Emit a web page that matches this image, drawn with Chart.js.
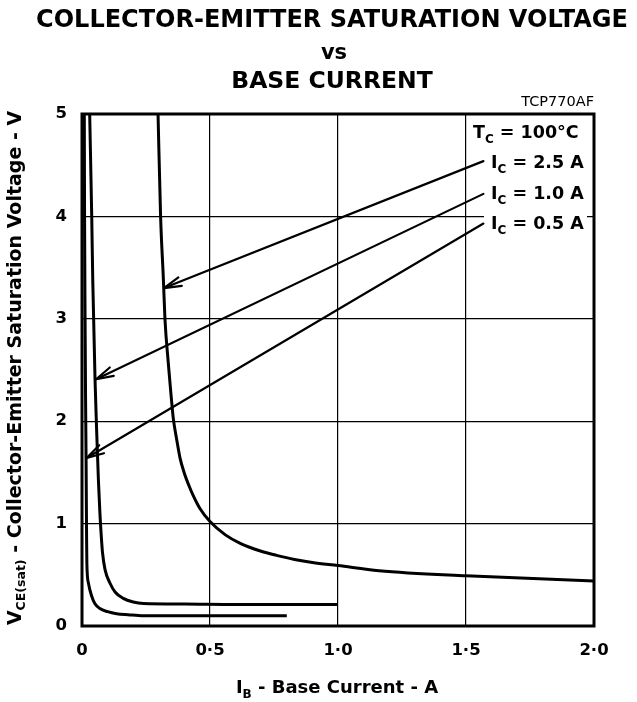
<!DOCTYPE html>
<html>
<head>
<meta charset="utf-8">
<script src="https://cdn.jsdelivr.net/npm/chart.js@4.4.1/dist/chart.umd.min.js"></script>
<style>
  html, body { margin: 0; padding: 0; background: #fff; }
  canvas { display: block; }
</style>
</head>
<body>
<canvas id="chart" width="637" height="702"></canvas>
<script>
// values (Tc = 100 °C)
const ibHigh = [0.297, 0.307, 0.318, 0.324, 0.337, 0.347, 0.357, 0.370, 0.383, 0.40, 0.418, 0.435, 0.46, 0.50, 0.56, 0.62, 0.70, 0.76, 0.83, 0.90, 1.00, 1.16, 1.50, 2.00];
const vceHigh = [5.0, 4.0, 3.38, 3.0, 2.57, 2.28, 2.02, 1.82, 1.64, 1.49, 1.37, 1.27, 1.15, 1.02, 0.89, 0.805, 0.73, 0.69, 0.65, 0.62, 0.59, 0.54, 0.49, 0.44];

const ibMid = [0.030, 0.038, 0.042, 0.051, 0.058, 0.064, 0.070, 0.076, 0.080, 0.090, 0.109, 0.130, 0.161, 0.200, 0.240, 0.400, 0.600, 1.000];
const vceMid = [5.0, 4.0, 3.38, 2.4, 1.85, 1.43, 1.1, 0.85, 0.72, 0.55, 0.42, 0.33, 0.27, 0.235, 0.22, 0.215, 0.21, 0.21];

const ibLow = [0.009, 0.010, 0.012, 0.014, 0.016, 0.017, 0.018, 0.019, 0.025, 0.038, 0.050, 0.070, 0.100, 0.135, 0.180, 0.240, 0.500, 0.800];
const vceLow = [5.0, 4.0, 3.0, 2.2, 1.6, 1.2, 0.85, 0.61, 0.42, 0.29, 0.22, 0.17, 0.14, 0.12, 0.11, 0.10, 0.10, 0.10];

const seriesNames = ['2.5 A', '1.0 A', '0.5 A'];
const xTickLabels = ['0', '0·5', '1·0', '1·5', '2·0'];
const yTickLabels = ['0', '1', '2', '3', '4', '5'];

const FONT = '"DejaVu Sans", sans-serif';

function pts(xs, ys) {
  return xs.map((x, i) => ({ x: x, y: ys[i] }));
}

// draws a run of text pieces: [text, size, dy]
function richText(ctx, parts, x, y, align) {
  let w = 0;
  parts.forEach(p => {
    ctx.font = 'bold ' + p[1] + 'px ' + FONT;
    w += ctx.measureText(p[0]).width;
  });
  let cx = align === 'center' ? x - w / 2 : (align === 'right' ? x - w : x);
  ctx.textAlign = 'left';
  ctx.textBaseline = 'alphabetic';
  parts.forEach(p => {
    ctx.font = 'bold ' + p[1] + 'px ' + FONT;
    ctx.fillText(p[0], cx, y + p[2]);
    cx += ctx.measureText(p[0]).width;
  });
}

const sheetDecor = {
  id: 'sheetDecor',
  beforeDatasetsDraw(chart) {
    const { ctx, chartArea: a } = chart;
    ctx.save();
    ctx.strokeStyle = '#000';
    ctx.lineWidth = 3;
    ctx.strokeRect(a.left, a.top, a.right - a.left, a.bottom - a.top);
    ctx.restore();
  },
  afterDatasetsDraw(chart) {
    const { ctx, scales } = chart;
    const xs = scales.x, ys = scales.y;
    ctx.save();

    // label block, white behind it
    ctx.fillStyle = '#fff';
    ctx.fillRect(484, 118, 103, 118);
    ctx.fillStyle = '#000';
    richText(ctx, [['T', 17.5, 0], ['C', 12, 5], [' = 100°C', 17.5, 0]], 473, 138);
    const rows = [168, 199, 229];
    seriesNames.forEach((name, i) => {
      richText(ctx, [['I', 17.5, 0], ['C', 12, 5], [' = ' + name, 17.5, 0]], 491, rows[i]);
    });

    // leader arrows (data units: from label to curve)
    const arrows = [
      [1.568, 4.54, 0.320, 3.30],
      [1.568, 4.22, 0.055, 2.41],
      [1.568, 3.93, 0.018, 1.64]
    ];
    ctx.strokeStyle = '#000';
    ctx.lineWidth = 2.2;
    ctx.lineCap = 'round';
    ctx.lineJoin = 'round';
    arrows.forEach(ar => {
      const x0 = xs.getPixelForValue(ar[0]), y0 = ys.getPixelForValue(ar[1]);
      const x1 = xs.getPixelForValue(ar[2]), y1 = ys.getPixelForValue(ar[3]);
      ctx.beginPath();
      ctx.moveTo(x0, y0);
      ctx.lineTo(x1, y1);
      ctx.stroke();
      const ang = Math.atan2(y0 - y1, x0 - x1);
      const len = 18, spread = 0.26;
      ctx.beginPath();
      ctx.moveTo(x1 + len * Math.cos(ang - spread), y1 + len * Math.sin(ang - spread));
      ctx.lineTo(x1, y1);
      ctx.lineTo(x1 + len * Math.cos(ang + spread), y1 + len * Math.sin(ang + spread));
      ctx.stroke();
    });
    ctx.restore();
  },
  afterDraw(chart) {
    const ctx = chart.ctx;
    ctx.save();
    ctx.fillStyle = '#000';
    ctx.textAlign = 'center';
    ctx.textBaseline = 'alphabetic';
    ctx.font = 'bold 24px ' + FONT;
    ctx.fillText('COLLECTOR-EMITTER SATURATION VOLTAGE', 332, 27);
    ctx.font = 'bold 21px ' + FONT;
    ctx.fillText('vs', 334, 59);
    ctx.font = 'bold 23.5px ' + FONT;
    ctx.fillText('BASE CURRENT', 332, 88);

    ctx.textAlign = 'right';
    ctx.font = '14.5px ' + FONT;
    ctx.fillText('TCP770AF', 594, 106);

    // x axis title
    richText(ctx, [['I', 18, 0], ['B', 12, 5], [' - Base Current - A', 18, 0]], 337, 693, 'center');

    // y axis title
    ctx.translate(21, 368);
    ctx.rotate(-Math.PI / 2);
    richText(ctx, [['V', 19, 0], ['CE(sat)', 12.5, 4], [' - Collector-Emitter Saturation Voltage - V', 19, 0]], 0, 0, 'center');
    ctx.restore();
  }
};

const lineStyle = {
  borderColor: '#000',
  borderWidth: 3,
  pointRadius: 0,
  fill: false,
  cubicInterpolationMode: 'monotone'
};

new Chart(document.getElementById('chart'), {
  type: 'line',
  data: {
    datasets: [
      Object.assign({ label: 'IC = ' + seriesNames[0], data: pts(ibHigh, vceHigh) }, lineStyle),
      Object.assign({ label: 'IC = ' + seriesNames[1], data: pts(ibMid, vceMid) }, lineStyle),
      Object.assign({ label: 'IC = ' + seriesNames[2], data: pts(ibLow, vceLow) }, lineStyle)
    ]
  },
  options: {
    responsive: false,
    animation: false,
    layout: { padding: { top: 114, right: 43, left: 0, bottom: 0 } },
    plugins: {
      legend: { display: false },
      tooltip: { enabled: false }
    },
    scales: {
      x: {
        type: 'linear',
        min: 0,
        max: 2,
        ticks: {
          stepSize: 0.5,
          color: '#000',
          padding: 15,
          maxRotation: 0,
          font: { family: FONT, weight: 'bold', size: 16.5 },
          callback: (v, i) => xTickLabels[i]
        },
        grid: { color: '#000', lineWidth: 1.2, drawTicks: false },
        border: { display: false },
        afterFit: s => { s.height = 76; }
      },
      y: {
        type: 'linear',
        min: 0,
        max: 5,
        ticks: {
          stepSize: 1,
          color: '#000',
          padding: 15,
          font: { family: FONT, weight: 'bold', size: 16.5 },
          callback: (v, i) => yTickLabels[i]
        },
        grid: { color: '#000', lineWidth: 1.2, drawTicks: false },
        border: { display: false },
        afterFit: s => { s.width = 82; }
      }
    }
  },
  plugins: [sheetDecor]
});
</script>
</body>
</html>
